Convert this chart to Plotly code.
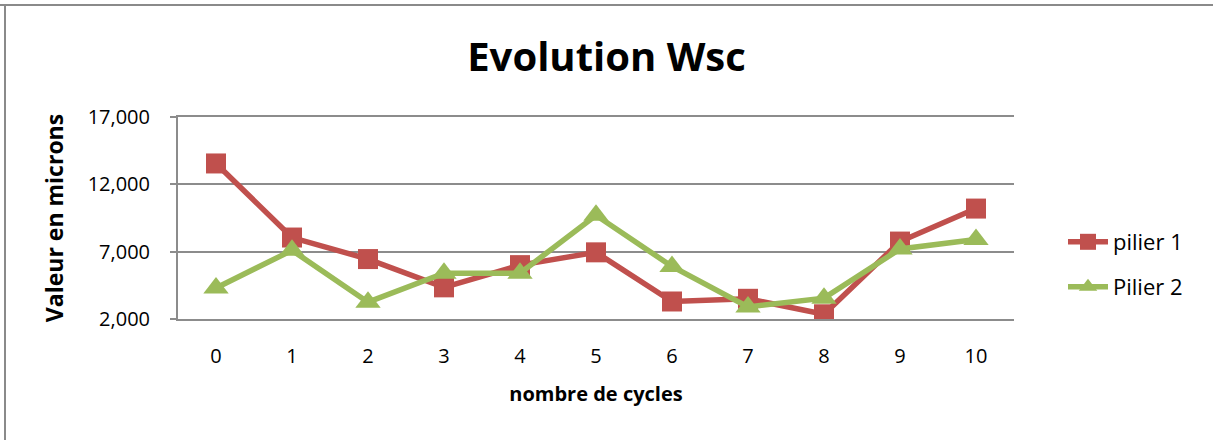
import plotly.graph_objects as go

# Wsc measurements per cycle count (microns)
cycles = ["0", "1", "2", "3", "4", "5", "6", "7", "8", "9", "10"]
pilier1 = [13550, 8050, 6450, 4350, 6000, 6950, 3300, 3500, 2350, 7750, 10200]
pilier2 = [4300, 7100, 3250, 5400, 5400, 9700, 5900, 2900, 3550, 7200, 7900]

y_ticks = [2000, 7000, 12000, 17000]

RED = "#C0504D"
GREEN = "#9BBB59"
GRID = "#8c8c8c"
FONT = "'Open Sans', Lato, sans-serif"

W, H = 1213, 440
ML, MR, MT, MB = 178, 199, 117, 121

fig = go.Figure()
fig.add_trace(go.Scatter(
    x=cycles, y=pilier1, name="pilier 1", mode="lines+markers",
    line=dict(color=RED, width=5.5),
    marker=dict(symbol="square", size=20, color=RED),
    legend="legend",
))
fig.add_trace(go.Scatter(
    x=cycles, y=pilier2, name="Pilier 2", mode="lines+markers",
    line=dict(color=GREEN, width=5.5),
    marker=dict(symbol="triangle-up", size=22, color=GREEN),
    legend="legend2",
))

# Outer frame: top and left edges of the chart area
pw = W - ML - MR
ph = H - MT - MB
def px_to_paper_x(px):
    return (px - ML) / pw
def px_to_paper_y(py):
    return (H - MB - py) / ph

frame = dict(color="#8a8a8a", width=2)
fig.add_shape(type="line", xref="paper", yref="paper",
              x0=px_to_paper_x(0), x1=px_to_paper_x(W),
              y0=px_to_paper_y(5), y1=px_to_paper_y(5), line=frame)
fig.add_shape(type="line", xref="paper", yref="paper",
              x0=px_to_paper_x(5), x1=px_to_paper_x(5),
              y0=px_to_paper_y(5), y1=px_to_paper_y(H), line=frame)

legend_common = dict(
    xref="container", yref="container", xanchor="left", yanchor="middle",
    bgcolor="rgba(0,0,0,0)", font=dict(family=FONT, size=22, color="#000"),
    itemwidth=40,
)

fig.update_layout(
    width=W, height=H,
    margin=dict(l=ML, r=MR, t=MT, b=MB, autoexpand=False),
    paper_bgcolor="white", plot_bgcolor="white",
    font=dict(family=FONT, color="#000"),
    title=dict(text="<b>Evolution Wsc</b>", x=0.5, xref="container",
               y=1 - 57 / H, yref="container", yanchor="middle", xanchor="center",
               font=dict(family=FONT, size=40, color="#000")),
    showlegend=True,
    legend=dict(x=1063 / W, y=1 - 242 / H, **legend_common),
    legend2=dict(x=1063 / W, y=1 - 287 / H, **legend_common),
    xaxis=dict(
        type="category", range=[-0.5, 10.5],
        showgrid=False, zeroline=False,
        showline=True, mirror=True, linecolor=GRID, linewidth=2,
        ticks="", ticklabelstandoff=18,
        tickfont=dict(family=FONT, size=20, color="#000"),
        title=dict(text="<b>nombre de cycles</b>", standoff=19,
                   font=dict(family=FONT, size=20, color="#000")),
    ),
    yaxis=dict(
        range=[2000, 17000], tickvals=y_ticks, tickformat=",",
        showgrid=True, gridcolor=GRID, gridwidth=2,
        showline=True, linecolor=GRID, linewidth=2,
        ticks="outside", ticklen=6, tickcolor=GRID, tickwidth=2,
        ticklabelstandoff=16, zeroline=False,
        tickfont=dict(family=FONT, size=20, color="#000"),
        title=dict(text="<b>Valeur en microns</b>", standoff=18,
                   font=dict(family=FONT, size=23, color="#000")),
    ),
)

fig.write_html("out.html")
